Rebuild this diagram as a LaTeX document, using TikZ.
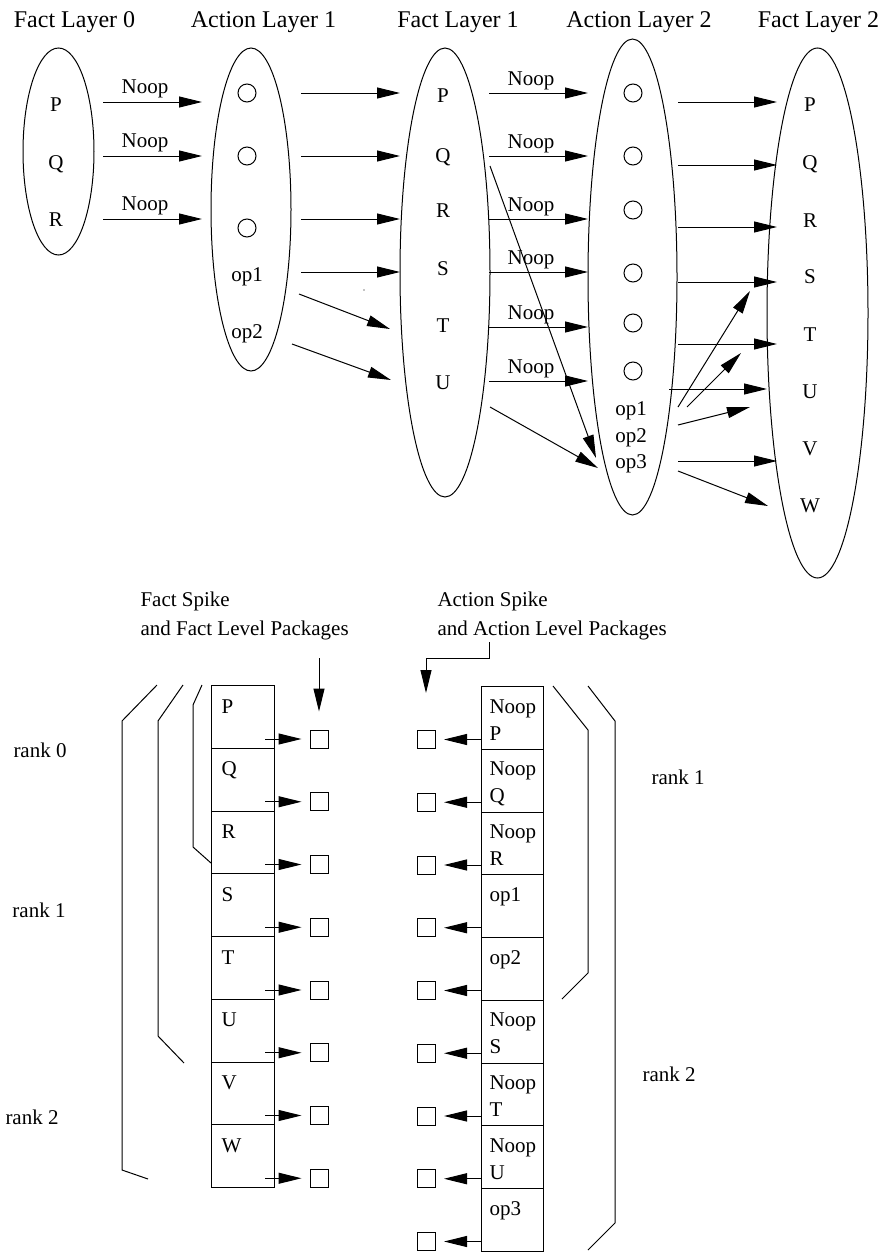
\documentclass[tikz,border=0pt]{standalone}
\usepackage{fontspec}
\setmainfont{Liberation Serif}
\usetikzlibrary{arrows.meta,shapes.geometric}
\begin{document}
\begin{tikzpicture}[x=1pt,y=-1pt,line width=1pt,
  arr/.style={-{Triangle[length=23pt,width=11pt]}},
  ell/.style={draw,ellipse,inner sep=0pt},
  ttl/.style={font=\fontsize{24}{28}\selectfont,inner sep=0pt,anchor=base},
  txt/.style={font=\fontsize{21}{25}\selectfont,inner sep=0pt},
  ring/.style={draw,circle,minimum size=18pt,inner sep=0pt},
  sq/.style={draw,minimum size=18pt,inner sep=0pt},
  cellbox/.style={draw,minimum width=63pt,minimum height=62.75pt,inner sep=0pt,anchor=north west},
  brk/.style={line width=1pt}]
\path[fill=white,use as bounding box] (0,0) rectangle (883,1253);

% titles
\node[ttl] (t0) at (74.5,27) {Fact Layer 0};
\node[ttl] (t1) at (263.5,27) {Action Layer 1};
\node[ttl] (t2) at (458,27) {Fact Layer 1};
\node[ttl] (t3) at (639,27) {Action Layer 2};
\node[ttl] (t4) at (818.5,27) {Fact Layer 2};

% ellipses
\node[ell,minimum width=71pt,minimum height=207pt] (FL0) at (58.5,151.5) {};
\node[ell,minimum width=80pt,minimum height=323pt] (AL1) at (251,209.5) {};
\node[ell,minimum width=90pt,minimum height=449pt] (FL1) at (445,272.5) {};
\node[ell,minimum width=89pt,minimum height=476pt] (AL2) at (632.5,277) {};
\node[ell,minimum width=101pt,minimum height=530pt] (FL2) at (817.5,313) {};

% Fact layer 0
\foreach \l/\y in {P/111,Q/169,R/226}
  \node[txt,anchor=base] (f0\l) at (56,\y) {\l};
% Action layer 1
\foreach \y [count=\i] in {93,156,228}
  \node[ring] (a1c\i) at (247,\y) {};
\node[txt,anchor=base] (a1op1) at (247,281) {op1};
\node[txt,anchor=base] (a1op2) at (247,338) {op2};
% Fact layer 1
\foreach \l/\y in {P/102,Q/162,R/217,S/275,T/332,U/389}
  \node[txt,anchor=base] (f1\l) at (443,\y) {\l};
% Action layer 2
\foreach \y [count=\i] in {93,156,210,273,323,371}
  \node[ring] (a2c\i) at (633,\y) {};
\node[txt,anchor=base] (a2op1) at (631,415) {op1};
\node[txt,anchor=base] (a2op2) at (631,442) {op2};
\node[txt,anchor=base] (a2op3) at (631,468) {op3};
% Fact layer 2
\foreach \l/\y in {P/111,Q/169,R/227,S/283,T/341,U/398,V/455,W/512}
  \node[txt,anchor=base] (f2\l) at (810,\y) {\l};

% FL0 -> AL1 (Noop)
\foreach \y [count=\i] in {102,156,219} {
  \coordinate (p0s\i) at (103,\y);
  \coordinate (p0e\i) at (202,\y);
  \draw[arr] (p0s\i) -- (p0e\i);
  \node[txt,anchor=base] (n0\i) at (145,\y-9) {Noop};
}
% AL1 -> FL1
\foreach \y [count=\i] in {93,156,219,272} {
  \coordinate (p1s\i) at (301,\y);
  \coordinate (p1e\i) at (400,\y);
  \draw[arr] (p1s\i) -- (p1e\i);
}
\coordinate (d1s) at (299,294); \coordinate (d1e) at (390,329);
\coordinate (d2s) at (292,344); \coordinate (d2e) at (391,380);
\draw[arr] (d1s) -- (d1e);
\draw[arr] (d2s) -- (d2e);
\fill (364,290) circle (0.6);

% FL1 -> AL2 (Noop)
\foreach \y [count=\i] in {93,156,219,272,327,381} {
  \coordinate (p2s\i) at (489,\y);
  \coordinate (p2e\i) at (588,\y);
  \draw[arr] (p2s\i) -- (p2e\i);
  \node[txt,anchor=base] (n2\i) at (531,\y-8) {Noop};
}
\coordinate (d3s) at (490,166); \coordinate (d3e) at (596,458);
\coordinate (d4s) at (490,407); \coordinate (d4e) at (598,468);
\draw[arr] (d3s) -- (d3e);
\draw[arr] (d4s) -- (d4e);

% AL2 -> FL2
\foreach \y [count=\i] in {102,165,227,282,344,461} {
  \coordinate (p3s\i) at (678,\y);
  \coordinate (p3e\i) at (777,\y);
  \draw[arr] (p3s\i) -- (p3e\i);
}
\coordinate (u3s) at (669,389); \coordinate (u3e) at (767,389);
\draw[arr] (u3s) -- (u3e);
\coordinate (w3s) at (678,471); \coordinate (w3e) at (768,506);
\draw[arr] (w3s) -- (w3e);
\coordinate (o1s) at (678,407); \coordinate (o1e) at (750,291);
\coordinate (o2s) at (687,407); \coordinate (o2e) at (741,353);
\coordinate (o3s) at (678,425); \coordinate (o3e) at (750,407);
\draw[arr] (o1s) -- (o1e);
\draw[arr] (o2s) -- (o2e);
\draw[arr] (o3s) -- (o3e);

% ---- bottom part ----
\node[txt,anchor=base west] (fsp1) at (140,606) {Fact Spike};
\node[txt,anchor=base west] (fsp2) at (140,635) {and Fact Level Packages};
\node[txt,anchor=base west] (asp1) at (437,606) {Action Spike};
\node[txt,anchor=base west] (asp2) at (437,635) {and Action Level Packages};

% fact rows
\foreach \l [count=\i from 0] in {P,Q,R,S,T,U,V,W} {
  \pgfmathsetmacro\rtop{685+62.75*\i}
  \node[cellbox] (fr\l) at (211,\rtop) {};
  \node[txt,anchor=base west] (frl\l) at (221,\rtop+28) {\l};
  \node[sq] (fs\l) at (319,\rtop+54) {};
  \coordinate (fa\l) at (265,\rtop+54);
  \draw[arr,shorten >=8pt] (fa\l) -- (fs\l.west);
}
% action rows
\foreach \a/\b [count=\i from 0] in {Noop/P,Noop/Q,Noop/R,op1/{},op2/{},Noop/S,Noop/T,Noop/U,op3/{}} {
  \pgfmathsetmacro\rtop{686+62.75*\i}
  \node[cellbox,minimum width=62pt] (ar\i) at (481,\rtop) {};
  \node[txt,anchor=base west] (ara\i) at (489,\rtop+27) {\a};
  \node[txt,anchor=base west] (arb\i) at (489,\rtop+54) {\b};
  \node[sq] (as\i) at (426.5,\rtop+53.5) {};
  \coordinate (aa\i) at (481,\rtop+53.5);
  \draw[arr,shorten >=8pt] (aa\i) -- (as\i.east);
}

% spike arrows
\coordinate (fsA) at (319,658);
\draw[arr,shorten >=18pt] (fsA) -- (fsP.north);
\coordinate (asA) at (489,642);
\coordinate (asB) at (426,658);
\coordinate (asC) at (426,693);
\draw[arr] (asA) |- (asB) -- (asC);

% brackets left
\draw[brk] (157,685) -- (122,721) -- (122,1170) -- (148,1179);
\draw[brk] (183,685) -- (158,721) -- (158,1036) -- (184,1063);
\draw[brk] (202,685) -- (193,705) -- (193,847) -- (211,863);
% brackets right
\draw[brk] (553,686) -- (588,730) -- (588,973) -- (562,999);
\draw[brk] (588,686) -- (615,721) -- (615,1223) -- (588,1250);

% rank labels
\node[txt,anchor=base west] (rk0) at (13,757) {rank 0};
\node[txt,anchor=base west] (rk1) at (12,917) {rank 1};
\node[txt,anchor=base west] (rk2) at (5,1124) {rank 2};
\node[txt,anchor=base west] (rr1) at (651,784) {rank 1};
\node[txt,anchor=base west] (rr2) at (642,1081) {rank 2};
\end{tikzpicture}
\end{document}
